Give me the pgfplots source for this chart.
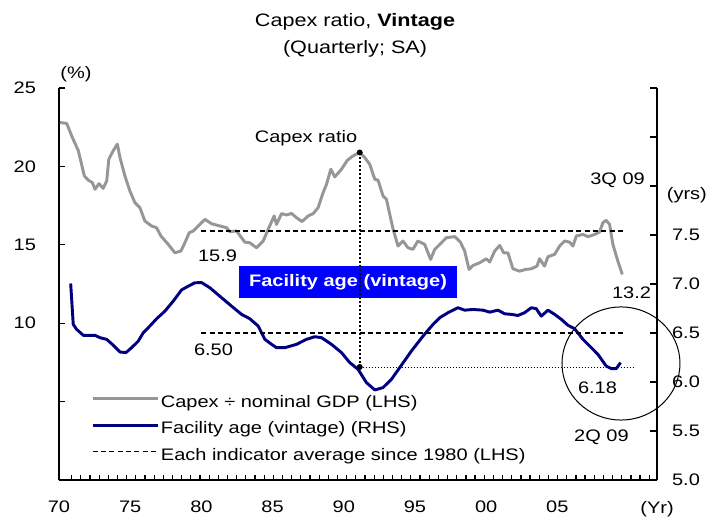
\documentclass[border=0pt]{standalone}
\usepackage{fontspec}
\setmainfont{Liberation Sans}[FakeStretch=1.2]
\usepackage{pgfplots}
\pgfplotsset{compat=1.18}
\usepackage{pgfplotstable}

\definecolor{capexgray}{RGB}{150,150,150}
\definecolor{vnavy}{RGB}{0,0,128}
\definecolor{boxblue}{RGB}{0,0,255}

\pgfplotstableread{
yr val
1970.07 22.80
1970.54 22.74
1970.89 21.95
1971.36 20.99
1971.78 19.39
1972.06 19.12
1972.34 18.97
1972.53 18.54
1972.81 18.90
1973.10 18.60
1973.35 19.07
1973.50 20.46
1973.80 20.99
1974.10 21.42
1974.28 20.57
1974.63 19.39
1974.98 18.43
1975.33 17.69
1975.68 17.37
1976.03 16.52
1976.50 16.20
1976.85 16.09
1977.16 15.56
1977.67 15.03
1978.14 14.49
1978.56 14.60
1978.84 15.13
1979.15 15.77
1979.43 15.88
1979.78 16.20
1980.25 16.62
1980.72 16.34
1981.30 16.20
1981.77 16.09
1982.00 15.84
1982.47 15.88
1983.05 15.17
1983.40 15.13
1983.87 14.81
1984.34 15.24
1984.69 15.98
1985.11 16.84
1985.28 16.30
1985.63 16.99
1985.98 16.90
1986.33 17.00
1986.68 16.73
1987.07 16.48
1987.50 16.84
1987.85 16.99
1988.20 17.37
1988.55 18.33
1988.79 18.86
1989.09 19.82
1989.37 19.33
1989.84 19.82
1990.26 20.40
1990.65 20.67
1991.12 20.89
1991.47 20.57
1991.82 20.14
1992.18 19.18
1992.41 19.12
1992.76 18.11
1993.00 17.90
1993.23 16.94
1993.47 15.98
1993.81 14.92
1994.16 15.24
1994.51 14.81
1994.86 14.71
1995.20 15.24
1995.68 15.03
1996.10 14.07
1996.39 14.71
1996.86 15.13
1997.20 15.45
1997.80 15.52
1998.19 15.17
1998.49 14.60
1998.80 13.43
1999.07 13.68
1999.54 13.85
2000.01 14.11
2000.25 13.90
2000.60 14.60
2000.95 14.96
2001.23 14.49
2001.53 14.49
2001.88 13.47
2002.35 13.32
2002.77 13.43
2003.17 13.47
2003.57 13.64
2003.75 14.11
2004.10 13.64
2004.34 14.24
2004.81 14.39
2005.16 14.92
2005.51 15.24
2005.86 15.17
2006.10 14.92
2006.33 15.56
2006.80 15.66
2007.15 15.52
2007.62 15.66
2007.96 15.81
2008.20 16.41
2008.43 16.56
2008.67 16.30
2008.90 15.03
2009.25 13.96
2009.56 13.11
}\capex

\pgfplotstableread{
yr val
1970.82 7.005
1971.00 6.588
1971.24 6.537
1971.71 6.476
1972.53 6.476
1972.88 6.452
1973.35 6.435
1973.82 6.374
1974.28 6.306
1974.70 6.300
1975.10 6.350
1975.57 6.418
1975.92 6.503
1976.27 6.554
1976.86 6.646
1977.44 6.723
1978.02 6.825
1978.61 6.940
1979.08 6.978
1979.54 7.012
1980.01 7.015
1980.60 6.961
1981.42 6.860
1982.12 6.774
1982.82 6.690
1983.40 6.646
1983.99 6.571
1984.46 6.435
1984.93 6.384
1985.28 6.350
1985.86 6.350
1986.68 6.384
1987.38 6.435
1987.96 6.462
1988.44 6.452
1989.14 6.384
1989.84 6.300
1990.42 6.198
1991.00 6.130
1991.59 5.994
1992.18 5.919
1992.76 5.943
1993.35 6.028
1993.93 6.147
1994.75 6.316
1995.57 6.469
1996.27 6.588
1996.74 6.656
1997.32 6.707
1998.02 6.758
1998.49 6.733
1999.07 6.740
1999.78 6.733
2000.25 6.713
2000.83 6.733
2001.30 6.696
2001.77 6.690
2002.23 6.679
2002.70 6.707
2003.17 6.758
2003.52 6.748
2003.87 6.672
2004.34 6.733
2004.81 6.690
2005.28 6.639
2005.75 6.578
2006.21 6.544
2006.80 6.435
2007.50 6.333
2007.85 6.282
2008.43 6.163
2008.79 6.137
2009.14 6.137
2009.44 6.198
}\vintage

\begin{document}
\begin{tikzpicture}[font=\fontsize{12.5}{15}\selectfont]
\begin{axis}[name=main, scale only axis, width=448.5pt, height=294pt,
  xmin=1970, xmax=2012, ymin=0, ymax=25, clip=false,
  axis x line*=bottom, axis y line*=left,
  axis line style={-, line width=1.2pt},
  xtick={1970,1975,1980,1985,1990,1995,2000,2005,2012},
  xticklabels={70,75,80,85,90,95,00,05,(Yr)},
  major x tick style={draw=none},
  minor xtick={1970.89,1971.534,...,2011.7},
  ytick={5,10,15,20,25}, yticklabels={,10,15,20,25},
  tick align=inside, major tick length=4.5pt, minor tick length=3.75pt,
  tick style={black, line width=0.9pt},
  xticklabel style={yshift=-12.3pt},
  yticklabel style={xshift=-13.8pt},
  legend style={at={(rel axis cs:0.0537,0.216)}, anchor=north west,
    draw=none, fill=none, inner sep=0pt, outer sep=0pt, row sep=8.3pt,
    nodes={inner xsep=1.4pt, inner ysep=0pt, text height=9pt, text depth=2.6pt}},
  legend cell align=left,
  legend image code/.code={\draw[#1] (0pt,3.4pt) -- (48.75pt,3.4pt);},
]
\addplot[capexgray, line width=2.2pt, line join=round] table[x=yr, y=val] {\capex};
\addlegendentry{Capex ÷ nominal GDP (LHS)}
\addlegendimage{vnavy, line width=2.2pt}
\addlegendentry{Facility age (vintage) (RHS)}
\addplot[black, line width=1.3pt, dash pattern=on 3.75pt off 2.5pt] coordinates {(1980,15.9) (2009.7,15.9)};
\addlegendentry{Each indicator average since 1980 (LHS)}

\node at (axis cs:1987.35,21.81) {Capex ratio};
\node at (axis cs:1981.13,14.32) {15.9};
\node at (axis cs:1980.85,8.32) {6.50};
\node[fill=boxblue, text=white, font=\fontsize{12.5}{15}\selectfont\bfseries, minimum width=163.5pt, minimum height=24.2pt, inner sep=0pt] at (axis cs:1990.30,12.63) {Facility age (vintage)};
\node at (axis cs:2010.21,11.96) {13.2};
\node at (axis cs:2009.23,19.10) {3Q 09};
\node at (axis cs:2007.82,5.90) {6.18};
\node at (axis cs:2008.10,2.71) {2Q 09};
\node at (axis cs:1971.19,25.89) {(\%)};
\node at (axis cs:2014.1,18.18) {(yrs)};
\node[anchor=base, font=\fontsize{13.5}{16}\selectfont] at (axis cs:1990.79,28.95) {Capex ratio, \textbf{Vintage}};
\node[anchor=base, font=\fontsize{13.5}{16}\selectfont] at (axis cs:1990.79,27.23) {(Quarterly; SA)};
\draw[black, line width=0.75pt] (axis cs:2009.47,7.43) ellipse [x radius=44.25pt, y radius=42.4pt];
\end{axis}

\begin{axis}[scale only axis, width=448.5pt, height=294pt,
  xmin=1970, xmax=2012, ymin=5, ymax=9, clip=false,
  axis x line=none, axis y line*=right,
  axis line style={-, line width=1.2pt},
  ytick={5,5.5,6,6.5,7,7.5,8,8.5,9},
  yticklabels={5.0,5.5,6.0,6.5,7.0,7.5,,,},
  tick align=inside, major tick length=5pt,
  tick style={black, line width=0.9pt},
  yticklabel style={xshift=7.8pt},
]
\addplot[vnavy, line width=2.2pt, line join=round] table[x=yr, y=val] {\vintage};
\addplot[black, line width=1.3pt, dash pattern=on 3.75pt off 2.5pt] coordinates {(1980,6.5) (2009.7,6.5)};
\addplot[black, line width=0.75pt, dash pattern=on 0.75pt off 1.5pt] coordinates {(1991.12,6.153) (2010.5,6.153)};
\addplot[black, line width=1.5pt, dash pattern=on 1.5pt off 1.5pt] coordinates {(1991.12,6.153) (1991.12,8.342)};
\addplot[black, only marks, mark=*, mark size=2pt] coordinates {(1991.12,6.153) (1991.12,8.342)};
\end{axis}
\pgfresetboundingbox
\path[use as bounding box] ([shift={(-44.25pt,-32.25pt)}]main.south west) rectangle ++(534pt,392.25pt);
\end{tikzpicture}
\end{document}
